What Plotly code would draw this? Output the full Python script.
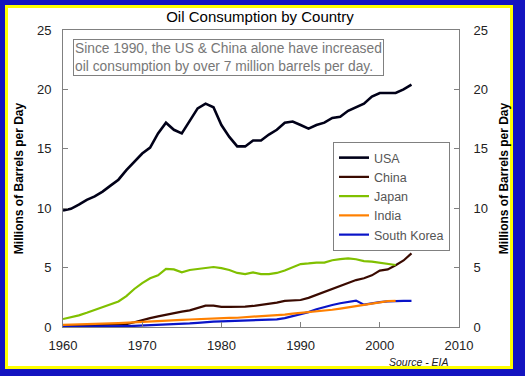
import plotly.graph_objects as go

years = list(range(1960, 2005))
usa = [9.8, 9.95, 10.3, 10.7, 11.0, 11.4, 11.9, 12.4, 13.2, 13.9,
       14.6, 15.1, 16.3, 17.2, 16.6, 16.3, 17.4, 18.4, 18.8, 18.5,
       17.0, 16.0, 15.2, 15.2, 15.7, 15.7, 16.2, 16.6, 17.2, 17.3,
       17.0, 16.7, 17.0, 17.2, 17.6, 17.7, 18.2, 18.5, 18.8, 19.4,
       19.7, 19.7, 19.7, 20.0, 20.4]
china = [0.12, 0.12, 0.12, 0.13, 0.15, 0.18, 0.2, 0.2, 0.25, 0.4,
         0.6, 0.75, 0.9, 1.05, 1.15, 1.3, 1.4, 1.6, 1.8, 1.8,
         1.7, 1.7, 1.7, 1.72, 1.77, 1.85, 1.95, 2.05, 2.2, 2.25,
         2.27, 2.45, 2.7, 2.95, 3.15, 3.4, 3.65, 3.95, 4.1, 4.35,
         4.75, 4.85, 5.2, 5.6, 6.2]
years_jp = list(range(1960, 2003))
japan = [0.67, 0.8, 0.98, 1.2, 1.45, 1.68, 1.9, 2.15, 2.6, 3.2,
         3.7, 4.1, 4.35, 4.9, 4.85, 4.6, 4.8, 4.9, 4.95, 5.05,
         4.95, 4.8, 4.55, 4.45, 4.6, 4.45, 4.45, 4.55, 4.75, 5.05,
         5.3, 5.35, 5.42, 5.42, 5.62, 5.72, 5.78, 5.7, 5.55, 5.5,
         5.42, 5.32, 5.22]
years_in = list(range(1960, 2003))
india = [0.18, 0.19, 0.2, 0.22, 0.24, 0.26, 0.3, 0.33, 0.37, 0.4,
         0.45, 0.48, 0.52, 0.55, 0.58, 0.6, 0.63, 0.67, 0.7, 0.73,
         0.75, 0.77, 0.78, 0.82, 0.87, 0.9, 0.93, 0.98, 1.05, 1.12,
         1.18, 1.22, 1.3, 1.37, 1.45, 1.55, 1.65, 1.75, 1.85, 2.0,
         2.1, 2.18, 2.2]
korea = [0.02, 0.02, 0.02, 0.02, 0.03, 0.03, 0.04, 0.06, 0.08, 0.1,
         0.12, 0.15, 0.17, 0.2, 0.22, 0.25, 0.3, 0.35, 0.42, 0.45,
         0.47, 0.5, 0.52, 0.53, 0.54, 0.57, 0.6, 0.65, 0.75, 0.9,
         1.05, 1.25, 1.5, 1.7, 1.85, 2.0, 2.1, 2.22, 1.88, 2.0,
         2.1, 2.15, 2.2, 2.2, 2.2]

x_ticks = [1960, 1970, 1980, 1990, 2000, 2010]
y_ticks = [0, 5, 10, 15, 20, 25]

FONT = "Liberation Sans, Arial, sans-serif"
W, H = 525, 381
L, R, T, B = 63, 459, 30, 327


def px(x):
    return (x - L) / (R - L)


def py(y):
    return (B - y) / (B - T)


fig = go.Figure()
series = [
    ("USA", years, usa, "#000018", 2.6, 1),
    ("China", years, china, "#3a0a00", 2.2, 2),
    ("Japan", years_jp, japan, "#80c000", 2.2, 3),
    ("South Korea", years, korea, "#0a14c8", 2.2, 5),
    ("India", years_in, india, "#ff8000", 2.2, 4),
]
for name, xs, ys, col, w, rank in series:
    fig.add_trace(go.Scatter(x=xs, y=ys, mode="lines", name=name,
                             line=dict(color=col, width=w),
                             legendrank=rank))
fig.add_trace(go.Scatter(x=[None], y=[None], yaxis="y2", showlegend=False,
                         hoverinfo="skip"))

shapes = [
    dict(type="rect", xref="paper", yref="paper", layer="below",
         x0=px(0), x1=px(525), y0=py(0), y1=py(376),
         fillcolor="#1414c0", line=dict(width=0)),
    dict(type="rect", xref="paper", yref="paper", layer="below",
         x0=px(5), x1=px(513), y0=py(5), y1=py(369),
         fillcolor="#ffff00", line=dict(width=0)),
    dict(type="rect", xref="paper", yref="paper", layer="below",
         x0=px(8), x1=px(510), y0=py(8), y1=py(366),
         fillcolor="#ffffff", line=dict(width=0)),
]

axis_common = dict(showgrid=False, zeroline=False, showline=True,
                   linecolor="#808080", linewidth=1, ticks="inside",
                   ticklen=5, tickcolor="#808080", automargin=False,
                   tickfont=dict(family=FONT, size=13, color="#222222"))


def ytitle(standoff):
    return dict(text="<b>Millions of Barrels per Day</b>", standoff=standoff,
                font=dict(family=FONT, size=12, color="#000000"))


fig.update_layout(
    width=W, height=H,
    margin=dict(l=L, r=W - R, t=T, b=H - B),
    paper_bgcolor="white", plot_bgcolor="rgba(0,0,0,0)",
    shapes=shapes,
    showlegend=True,
    title=dict(text="Oil Consumption by Country", x=px(260), xref="paper",
               xanchor="center", y=1 - 17 / H, yanchor="middle",
               font=dict(family=FONT, size=15, color="#000000")),
    xaxis=dict(range=[1960, 2010], tickvals=x_ticks, mirror=True,
               ticklabelstandoff=6, **axis_common),
    yaxis=dict(range=[0, 25], tickvals=y_ticks, mirror=True,
               ticklabelstandoff=8, title=ytitle(10), **axis_common),
    yaxis2=dict(range=[0, 25], tickvals=y_ticks, overlaying="y", side="right",
                anchor="x", ticklabelstandoff=11, title=ytitle(12),
                **axis_common),
    legend=dict(x=px(333), y=py(142), xanchor="left", yanchor="top",
                bgcolor="white", bordercolor="#808080", borderwidth=1,
                font=dict(family=FONT, size=12.5, color="#555555"),
                itemwidth=30, tracegroupgap=0),
    annotations=[
        dict(text="Since 1990, the US &amp; China alone have increased<br>"
                  "oil consumption by over 7 million barrels per day.",
             xref="paper", yref="paper", x=px(73), y=py(39),
             xanchor="left", yanchor="top", align="left", showarrow=False,
             bordercolor="#808080", borderwidth=1, borderpad=1,
             bgcolor="white",
             font=dict(family=FONT, size=13.8, color="#777777")),
        dict(text="<i>Source - EIA</i>", xref="paper", yref="paper",
             x=px(451), y=py(362), xanchor="right", yanchor="middle",
             showarrow=False,
             font=dict(family=FONT, size=10.5, color="#222222")),
    ],
)

fig.write_html("out.html", config={"displayModeBar": False},
               post_script="document.body.style.margin='0';"
                           "document.body.style.padding='0';")
